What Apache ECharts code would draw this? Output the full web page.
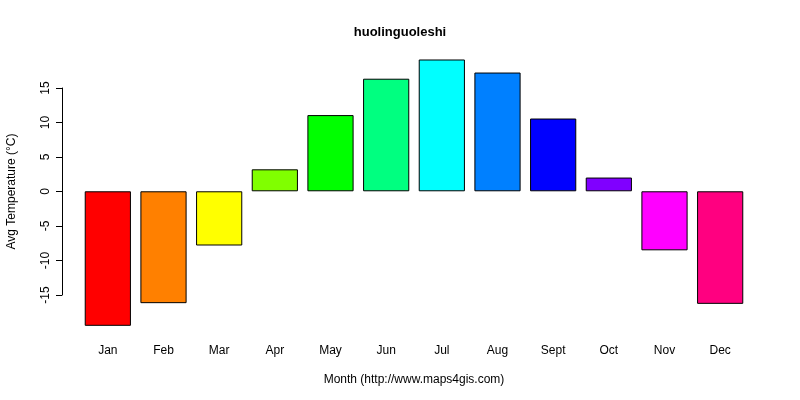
<!DOCTYPE html><html><head><meta charset="utf-8"><script src="https://cdn.jsdelivr.net/npm/echarts@6/dist/echarts.min.js"></script></head><body style="margin:0;background:#fff"><div id="c" style="width:800px;height:400px"></div><script>
const months=['Jan','Feb','Mar','Apr','May','Jun','Jul','Aug','Sept','Oct','Nov','Dec'];
const temps=[-19.6,-16.3,-7.9,3.2,11.1,16.4,19.2,17.3,10.6,2.0,-8.6,-16.4];
const colors=['#FF0000','#FF8000','#FFFF00','#80FF00','#00FF00','#00FF80','#00FFFF','#0080FF','#0000FF','#8000FF','#FF00FF','#FF0080'];
const yTicks=[-15,-10,-5,0,5,10,15];
const f='Liberation Sans, Arial, sans-serif';
const ch=echarts.init(document.getElementById('c'));
ch.setOption({animation:false,
title:{text:'huolinguoleshi',left:'center',top:21,textStyle:{fontFamily:f,fontSize:13,fontWeight:'bold',color:'#000'}},
grid:[{left:80,right:52,top:54,bottom:68},{left:62,width:1,top:88,bottom:105}],
xAxis:[{type:'category',data:months,gridIndex:0,axisLine:{show:false},axisTick:{show:false},axisLabel:{fontFamily:f,fontSize:12,color:'#000',margin:13},
name:'Month (http://www.maps4gis.com)',nameLocation:'middle',nameGap:42,nameTextStyle:{fontFamily:f,fontSize:12,color:'#000'}},
{type:'value',gridIndex:1,show:false,min:0,max:1}],
yAxis:[{type:'value',gridIndex:0,min:-20.5,max:20,show:false},
{type:'value',gridIndex:1,min:yTicks[0],max:yTicks[yTicks.length-1],interval:5,splitLine:{show:false},
axisLine:{show:true,lineStyle:{color:'#000'}},axisTick:{show:true,length:6,lineStyle:{color:'#000'}},
axisLabel:{rotate:90,fontFamily:f,fontSize:12,color:'#000',margin:10},
name:'Avg Temperature (°C)',nameLocation:'middle',nameGap:44,nameRotate:90,nameTextStyle:{fontFamily:f,fontSize:12,color:'#000'}}],
series:[{type:'bar',xAxisIndex:0,yAxisIndex:0,barWidth:'83%',
data:temps.map((v,i)=>({value:v,itemStyle:{color:colors[i],borderColor:'#000',borderWidth:1}}))}]
});
</script></body></html>
